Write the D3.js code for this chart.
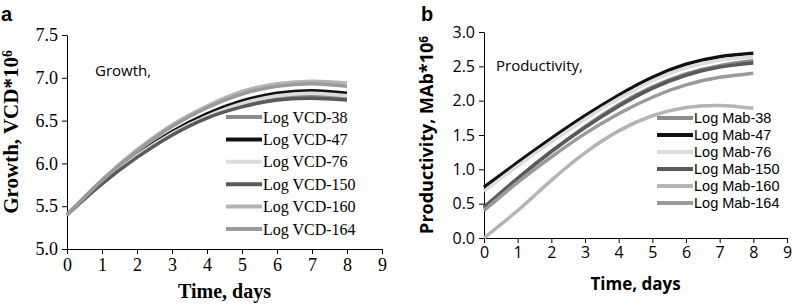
<!DOCTYPE html>
<html>
<head>
<meta charset="utf-8">
<script src="https://cdn.jsdelivr.net/npm/d3@7"></script>
<style>
  body { margin: 0; background: #fff; }
  svg { display: block; }
  .serif text { font-family: "Liberation Serif", "Times New Roman", serif; }
  .sans text { font-family: "Open Sans", "Liberation Sans", sans-serif; }
  .sans text.leg { font-family: "Liberation Sans", Arial, sans-serif; }
</style>
</head>
<body>
<div id="chart"></div>
<script>
const days = [0, 1, 2, 3, 4, 5, 6, 7, 8];
const clones = ["38", "47", "76", "150", "160", "164"];
const cloneColors = ["#8c8c8c", "#111111", "#dcdcdc", "#5a5a5a", "#b4b4b4", "#9a9a9a"];

// panel a: log viable cell density
const vcd38  = [5.40, 5.77, 6.08, 6.34, 6.54, 6.68, 6.77, 6.79, 6.77];
const vcd47  = [5.40, 5.78, 6.10, 6.37, 6.58, 6.73, 6.82, 6.85, 6.82];
const vcd76  = [5.40, 5.77, 6.09, 6.35, 6.55, 6.70, 6.79, 6.82, 6.79];
const vcd150 = [5.40, 5.76, 6.07, 6.33, 6.53, 6.66, 6.74, 6.76, 6.74];
const vcd160 = [5.40, 5.81, 6.16, 6.45, 6.67, 6.84, 6.93, 6.96, 6.94];
const vcd164 = [5.40, 5.80, 6.14, 6.43, 6.65, 6.81, 6.90, 6.93, 6.90];

// panel b: log MAb
const mab38  = [0.43, 0.86, 1.26, 1.62, 1.94, 2.20, 2.39, 2.51, 2.58];
const mab47  = [0.74, 1.10, 1.45, 1.78, 2.08, 2.34, 2.53, 2.64, 2.69];
const mab76  = [0.68, 1.05, 1.40, 1.73, 2.03, 2.29, 2.48, 2.59, 2.64];
const mab150 = [0.45, 0.87, 1.26, 1.61, 1.92, 2.18, 2.37, 2.49, 2.55];
const mab160 = [0.00, 0.40, 0.84, 1.24, 1.56, 1.78, 1.90, 1.93, 1.89];
const mab164 = [0.40, 0.81, 1.18, 1.52, 1.81, 2.05, 2.23, 2.34, 2.40];

const yTicksA = [5.0, 5.5, 6.0, 6.5, 7.0, 7.5];
const yTicksB = [0.0, 0.5, 1.0, 1.5, 2.0, 2.5, 3.0];
const xTicks = [0, 1, 2, 3, 4, 5, 6, 7, 8, 9];

const svg = d3.select("#chart").append("svg")
  .attr("width", 795)
  .attr("height", 306);

function drawPanel(opts) {
  const g = svg.append("g").attr("class", opts.cls);

  const x = d3.scaleLinear().domain([0, 9]).range([opts.left, opts.right]);
  const y = d3.scaleLinear().domain(opts.yDomain).range([opts.bottom, opts.top]);

  const xAxis = g.append("g")
    .attr("transform", `translate(0,${opts.bottom})`)
    .call(d3.axisBottom(x).tickValues(xTicks).tickSize(5).tickSizeOuter(0).tickPadding(4));
  const yAxis = g.append("g")
    .attr("transform", `translate(${opts.left},0)`)
    .call(d3.axisLeft(y).tickValues(opts.yTicks).tickFormat(d3.format(".1f"))
      .tickSize(5).tickSizeOuter(0).tickPadding(4));

  [xAxis, yAxis].forEach(a => {
    a.selectAll("text").attr("font-size", opts.tickFont).attr("fill", "#000");
    a.selectAll("line, path").attr("stroke", "#000");
    a.attr("font-family", null);
  });

  const line = d3.line()
    .x((d, i) => x(days[i]))
    .y(d => y(d))
    .curve(d3.curveNatural);

  g.selectAll("path.series")
    .data(opts.series)
    .join("path")
    .attr("class", "series")
    .attr("d", d => line(d))
    .attr("fill", "none")
    .attr("stroke", (d, i) => cloneColors[i])
    .attr("stroke-width", 3.5);

  // legend
  const leg = g.append("g");
  clones.forEach((c, i) => {
    const ly = opts.legY + i * opts.legStep;
    leg.append("line")
      .attr("x1", opts.legX).attr("x2", opts.legX + 36)
      .attr("y1", ly).attr("y2", ly)
      .attr("stroke", cloneColors[i])
      .attr("stroke-width", 4);
    leg.append("text")
      .attr("class", "leg")
      .attr("x", opts.legX + 37)
      .attr("y", ly)
      .attr("dy", "0.35em")
      .attr("font-size", opts.legFont)
      .text(opts.legPrefix + c);
  });

  // titles
  g.append("text")
    .attr("x", opts.noteX).attr("y", opts.noteY)
    .attr("font-size", opts.noteFont)
    .style("font-family", "'Open Sans', sans-serif")
    .text(opts.note);

  g.append("text")
    .attr("x", (opts.left + opts.right) / 2).attr("y", opts.xTitleY)
    .attr("text-anchor", "middle")
    .attr("font-size", opts.titleFont)
    .attr("font-weight", "bold")
    .text("Time, days");

  const yt = g.append("text")
    .attr("transform", `translate(${opts.yTitleX},${(opts.top + opts.bottom) / 2 + opts.yTitleShift}) rotate(-90)`)
    .attr("text-anchor", "middle")
    .attr("font-size", opts.yTitleFont)
    .attr("font-weight", "bold");
  yt.append("tspan").text(opts.yTitle);
  yt.append("tspan").attr("dy", "-0.45em").attr("font-size", "0.65em").text("6");

  g.append("text")
    .attr("x", opts.letterX).attr("y", 21)
    .attr("font-size", 20)
    .attr("font-weight", "bold")
    .style("font-family", "'Liberation Sans', Arial, sans-serif")
    .text(opts.letter);
}

drawPanel({
  cls: "serif", letter: "a", letterX: 1,
  left: 67, right: 382, top: 35, bottom: 249,
  yDomain: [5.0, 7.5], yTicks: yTicksA, tickFont: 18,
  series: [vcd38, vcd47, vcd76, vcd150, vcd160, vcd164],
  legX: 226, legY: 117, legStep: 22.4, legFont: 16, legPrefix: "Log VCD-",
  note: "Growth,", noteX: 95, noteY: 76, noteFont: 15,
  xTitleY: 298, titleFont: 20,
  yTitle: "Growth, VCD*10", yTitleX: 18, yTitleFont: 21, yTitleShift: -10
});

drawPanel({
  cls: "sans", letter: "b", letterX: 421,
  left: 484, right: 787, top: 32, bottom: 238,
  yDomain: [0, 3.0], yTicks: yTicksB, tickFont: 16,
  series: [mab38, mab47, mab76, mab150, mab160, mab164],
  legX: 657, legY: 118, legStep: 17, legFont: 14.5, legPrefix: "Log Mab-",
  note: "Productivity,", noteX: 496, noteY: 71, noteFont: 15,
  xTitleY: 290, titleFont: 17,
  yTitle: "Productivity, MAb*10", yTitleX: 433, yTitleFont: 18, yTitleShift: 0
});
</script>
</body>
</html>
